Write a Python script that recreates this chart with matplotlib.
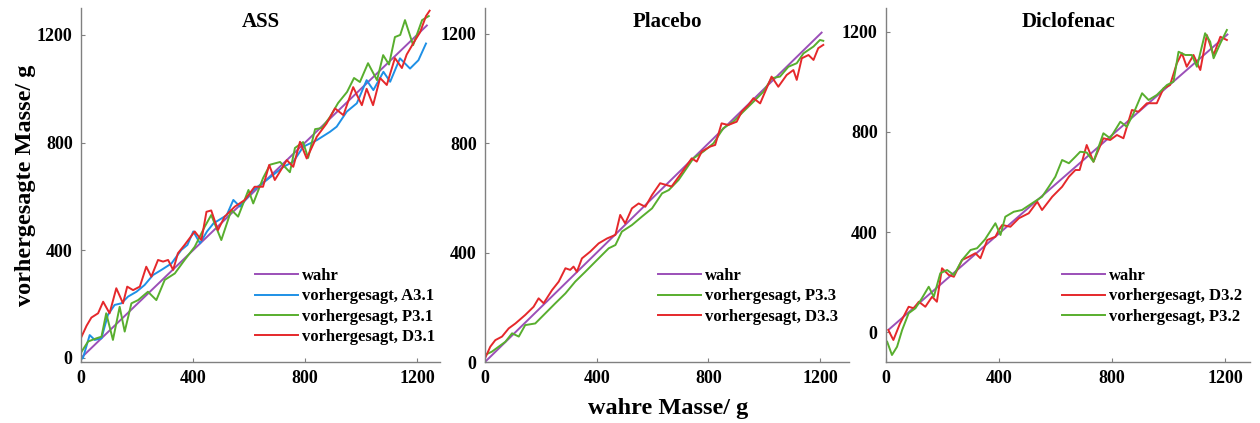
import matplotlib
matplotlib.use("Agg")
import matplotlib.pyplot as plt

plt.rcParams['font.family'] = ['Liberation Serif', 'DejaVu Serif']
plt.rcParams['font.weight'] = 'bold'

# Farben
c_wahr = '#9B4FB8'
c_blau = '#1E90E6'
c_gruen = '#58AE2E'
c_rot = '#E5282B'

# ---- ASS ----
ass_wahr_x = [0, 1235]
ass_wahr_y = [0, 1235]

ass_a31_x = [0, 7, 31, 49, 73, 96, 120, 144, 168, 198, 227, 257, 287, 323, 358, 380, 401, 425, 450, 473,
             520, 544, 568, 615, 663, 723, 758, 794, 842, 889, 913, 949, 985, 1020, 1044, 1080, 1104,
             1139, 1175, 1205, 1232]
ass_a31_y = [-5, 0, 85, 67, 73, 160, 197, 203, 228, 246, 271, 308, 327, 351, 401, 420, 470, 426, 470, 500,
             530, 587, 562, 624, 661, 710, 729, 785, 809, 840, 859, 915, 946, 1032, 995, 1063, 1026,
             1113, 1075, 1106, 1168]

ass_p31_x = [0, 25, 55, 73, 90, 114, 138, 156, 180, 204, 239, 269, 299, 335, 370, 406, 442, 465, 501,
             537, 561, 598, 615, 650, 675, 711, 746, 764, 793, 811, 836, 860, 889, 918, 950, 975, 996,
             1025, 1057, 1079, 1100, 1121, 1140, 1157, 1186, 1218, 1242]
ass_p31_y = [20, 61, 73, 79, 166, 67, 190, 98, 203, 215, 246, 215, 290, 314, 364, 413, 488, 531, 438,
             550, 525, 624, 574, 668, 718, 728, 690, 780, 802, 743, 850, 854, 895, 947, 988, 1040, 1025,
             1095, 1032, 1125, 1090, 1192, 1200, 1255, 1162, 1255, 1270]

ass_d31_x = [0, 20, 37, 61, 79, 102, 126, 150, 165, 186, 210, 233, 251, 275, 293, 311, 329, 346, 370,
             406, 430, 448, 465, 489, 513, 549, 585, 620, 650, 672, 692, 715, 735, 758, 782, 806, 842,
             877, 907, 937, 972, 1003, 1020, 1043, 1068, 1092, 1121, 1146, 1163, 1193, 1211, 1232, 1245]
ass_d31_y = [75, 120, 150, 166, 209, 166, 259, 203, 265, 252, 265, 339, 302, 364, 358, 364, 327, 389, 420,
             470, 438, 543, 548, 475, 525, 562, 587, 636, 636, 717, 661, 700, 735, 710, 803, 741, 822,
             871, 927, 902, 1006, 939, 1000, 939, 1040, 1014, 1114, 1077, 1127, 1180, 1210, 1270, 1290]

# ---- Placebo ----
pla_wahr_x = [0, 1205]
pla_wahr_y = [0, 1205]

pla_p33_x = [0, 25, 49, 73, 97, 121, 144, 180, 216, 252, 288, 323, 359, 395, 443, 467, 490, 526, 562,
             598, 634, 658, 693, 746, 782, 818, 853, 889, 925, 961, 997, 1026, 1056, 1086, 1116, 1140,
             1176, 1199, 1211]
pla_p33_y = [26, 38, 56, 74, 105, 93, 135, 141, 178, 215, 251, 294, 330, 367, 416, 428, 477, 501, 532,
             562, 617, 629, 666, 745, 770, 800, 855, 879, 916, 952, 989, 1038, 1044, 1080, 1093, 1129,
             1154, 1178, 1175]

pla_d33_x = [0, 19, 37, 61, 85, 109, 144, 174, 192, 210, 240, 264, 288, 305, 317, 329, 347, 377, 407,
             437, 467, 484, 502, 526, 550, 574, 598, 627, 668, 698, 740, 758, 776, 806, 824, 847, 871,
             901, 919, 943, 961, 985, 1008, 1026, 1050, 1080, 1104, 1116, 1134, 1158, 1176, 1193, 1211]
pla_d33_y = [13, 56, 80, 93, 123, 141, 172, 202, 233, 215, 263, 294, 343, 337, 349, 330, 379, 404, 434,
             452, 465, 538, 507, 562, 580, 568, 611, 654, 642, 684, 745, 733, 770, 788, 794, 873, 867,
             879, 916, 940, 965, 946, 1001, 1044, 1007, 1050, 1068, 1032, 1111, 1123, 1105, 1148, 1160]

# ---- Diclofenac ----
dic_wahr_x = [10, 1208]
dic_wahr_y = [10, 1190]

dic_d32_x = [8, 26, 49, 80, 98, 116, 139, 163, 180, 198, 222, 240, 269, 293, 316, 334, 358, 387, 399,
             411, 440, 470, 505, 535, 552, 588, 623, 647, 670, 685, 710, 734, 769, 793, 817, 840, 870,
             893, 923, 958, 982, 1005, 1029, 1047, 1064, 1088, 1112, 1135, 1159, 1183, 1206]
dic_d32_y = [8, -32, 33, 101, 95, 121, 101, 141, 121, 255, 228, 221, 288, 301, 315, 295, 368, 381, 408,
             428, 421, 455, 475, 521, 488, 541, 581, 621, 648, 648, 748, 681, 775, 768, 788, 775, 888,
             881, 915, 915, 975, 988, 1075, 1115, 1061, 1108, 1048, 1188, 1108, 1181, 1168]

dic_p32_x = [4, 21, 39, 57, 80, 104, 127, 151, 169, 192, 216, 240, 269, 299, 322, 350, 387, 405, 422,
             452, 481, 517, 552, 576, 599, 623, 647, 670, 687, 710, 734, 769, 793, 829, 852, 876, 906,
             929, 958, 994, 1017, 1035, 1059, 1082, 1100, 1129, 1147, 1159, 1183, 1206]
dic_p32_y = [-39, -92, -59, 8, 75, 95, 135, 181, 141, 235, 248, 228, 288, 328, 335, 370, 435, 388, 461,
             481, 488, 515, 541, 581, 621, 688, 675, 701, 721, 718, 681, 795, 775, 841, 821, 875, 955,
             928, 948, 988, 1001, 1121, 1108, 1108, 1061, 1195, 1161, 1095, 1155, 1208]

fig = plt.figure(figsize=(12.6, 4.23), dpi=100)

panels = [
    ('ASS', [0.0643, 0.1442, 0.2849, 0.8369], (0, 1282), (-15, 1300),
     [(ass_wahr_x, ass_wahr_y, c_wahr, 'wahr'),
      (ass_a31_x, ass_a31_y, c_blau, 'vorhergesagt, A3.1'),
      (ass_p31_x, ass_p31_y, c_gruen, 'vorhergesagt, P3.1'),
      (ass_d31_x, ass_d31_y, c_rot, 'vorhergesagt, D3.1')], 0.485),
    ('Placebo', [0.3849, 0.1442, 0.2889, 0.8369], (0, 1303), (0, 1295),
     [(pla_wahr_x, pla_wahr_y, c_wahr, 'wahr'),
      (pla_p33_x, pla_p33_y, c_gruen, 'vorhergesagt, P3.3'),
      (pla_d33_x, pla_d33_y, c_rot, 'vorhergesagt, D3.3')], 0.475),
    ('Diclofenac', [0.7032, 0.1442, 0.2889, 0.8369], (0, 1288), (-120, 1296),
     [(dic_wahr_x, dic_wahr_y, c_wahr, 'wahr'),
      (dic_d32_x, dic_d32_y, c_rot, 'vorhergesagt, D3.2'),
      (dic_p32_x, dic_p32_y, c_gruen, 'vorhergesagt, P3.2')], 0.4835),
]

for titel, pos, xl, yl, serien, leg_x in panels:
    ax = fig.add_axes(pos)
    handles = []
    for xs, ys, col, lab in serien:
        h, = ax.plot(xs, ys, color=col, lw=1.4, label=lab)
        handles.append(h)
    ax.set_xlim(*xl)
    ax.set_ylim(*yl)
    ax.set_xticks([0, 400, 800, 1200])
    ax.set_yticks([0, 400, 800, 1200])
    ax.spines['top'].set_visible(False)
    ax.spines['right'].set_visible(False)
    for s in ('left', 'bottom'):
        ax.spines[s].set_color('#808080')
        ax.spines[s].set_linewidth(1.0)
    ax.tick_params(direction='in', length=3, width=0.8, color='#808080',
                   labelsize=13, pad=6)
    for lbl in ax.get_xticklabels() + ax.get_yticklabels():
        lbl.set_fontweight('bold')
    ax.text(0.5, 0.96, titel, transform=ax.transAxes, ha='center', va='center',
            fontsize=15, fontweight='bold')
    ax.legend(handles=handles, loc='upper left', bbox_to_anchor=(leg_x, 0.265),
              frameon=False, handlelength=2.6, handletextpad=0.2,
              labelspacing=0.25, borderpad=0, borderaxespad=0,
              prop={'weight': 'bold', 'size': 12})

fig.text(0.02, 0.563, 'vorhergesagte Masse/ g', rotation=90, ha='center', va='center',
         fontsize=17.5, fontweight='bold')
fig.text(0.53, 0.035, 'wahre Masse/ g', ha='center', va='center',
         fontsize=17.5, fontweight='bold')

fig.savefig('out.png', dpi=100, facecolor='white')
